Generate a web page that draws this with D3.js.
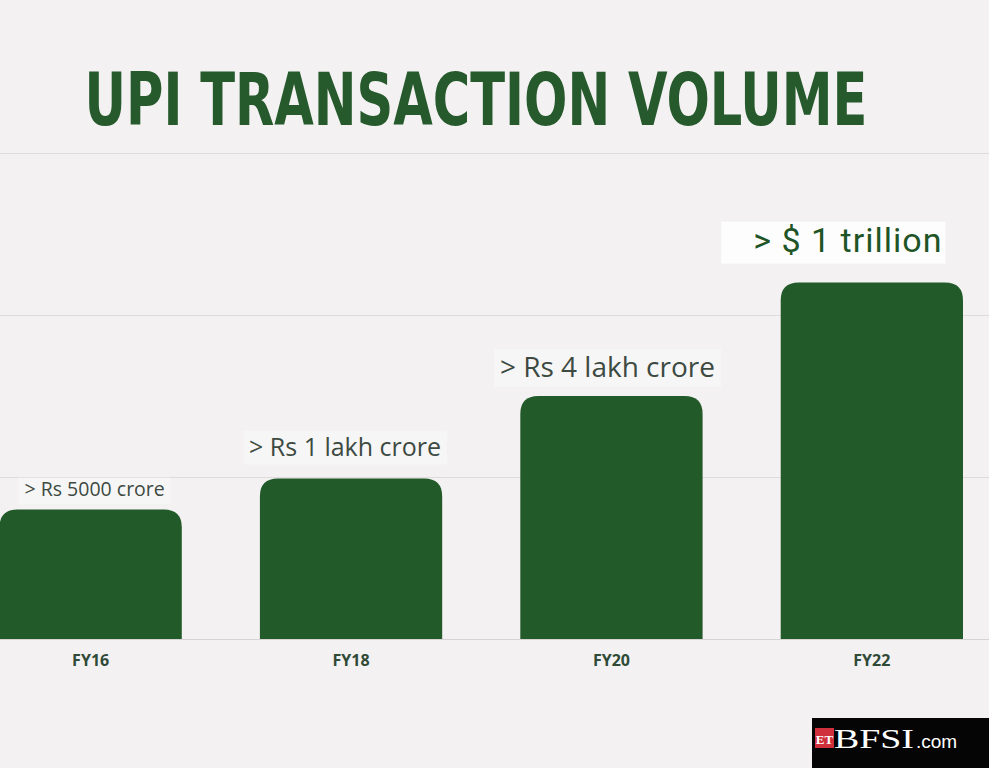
<!DOCTYPE html>
<html><head><meta charset="utf-8">
<script src="https://cdn.jsdelivr.net/npm/d3@7"></script>
<style>html,body{margin:0;padding:0;background:#f3f1f2;overflow:hidden}</style>
</head><body>
<svg id="c" width="989" height="768"></svg>
<script>
const categories = ["FY16","FY18","FY20","FY22"];
const values = [0.8, 0.99, 1.5, 2.2];
const labels = ["> Rs 5000 crore","> Rs 1 lakh crore","> Rs 4 lakh crore","> $ 1 trillion"];
const gridTicks = [0, 1, 2, 3];

const W = 989, H = 768;
const svg = d3.select("#c");
svg.append("rect").attr("width",W).attr("height",H).attr("fill","#f3f1f2");

const x = d3.scaleBand().domain(categories).range([-0.5, 963]).paddingInner(0.3).paddingOuter(0);
const y = d3.scaleLinear().domain([0,3]).range([639,153]);

// gridlines
svg.append("g").selectAll("line").data(gridTicks).join("line")
  .attr("x1",0).attr("x2",W)
  .attr("y1",d=>y(d)+0.5).attr("y2",d=>y(d)+0.5)
  .attr("stroke",d=>d===0?"#d6d3d5":"#dedbdd").attr("stroke-width",1);

// title: fit width by font-size, then stretch vertically to match cap height
const titleG = svg.append("g").attr("transform","translate(476,125)");
const title = titleG.append("text").attr("x",0).attr("y",0)
  .attr("text-anchor","middle")
  .attr("font-family","'DejaVu Sans Condensed','DejaVu Sans',sans-serif")
  .attr("font-weight",700).attr("font-size",72)
  .attr("fill","#265a2c").text("UPI TRANSACTION VOLUME");
const tw = title.node().getComputedTextLength();
let fs = 72;
if (tw > 0) { fs = Math.min(80, 72 * 783 / tw); title.attr("font-size", fs); }
const capH = fs * 0.73;
titleG.attr("transform", `translate(476,125) scale(1,${Math.max(1, 53 / capH)})`);

// bars
const r = 18;
function barPath(x0,w,top,bot){
  const rr = Math.min(r, (bot-top), w/2);
  return `M${x0},${bot}V${top+rr}Q${x0},${top} ${x0+rr},${top}H${x0+w-rr}Q${x0+w},${top} ${x0+w},${top+rr}V${bot}Z`;
}
svg.append("g").selectAll("path").data(categories).join("path")
  .attr("d",(d,i)=>barPath(x(d), x.bandwidth(), y(values[i]), y(0)))
  .attr("fill","#235a29");

// value labels
const lblSizes = [19.5, 25, 28, 34];
const lblFonts = ["'Open Sans'","'Open Sans'","'Open Sans'","Roboto"];
const lblColors = ["#3d4a42","#3d4a42","#3d4a42","#1f5526"];
const lblGap = [13, 23, 19, 31];
const lblDx = [4, -6, -4, -24];
const lg = svg.append("g");
categories.forEach((c,i)=>{
  const g = lg.append("g");
  const t = g.append("text")
    .attr("x", x(c)+x.bandwidth()/2 + lblDx[i])
    .attr("y", y(values[i]) - lblGap[i])
    .attr("text-anchor","middle")
    .attr("font-family", lblFonts[i]+",sans-serif")
    .attr("font-size", lblSizes[i])
    .attr("letter-spacing", i===3?1:0)
    .attr("fill", lblColors[i])
    .text(labels[i]);
  const b = t.node().getBBox();
  g.insert("rect","text").attr("x",b.x-(i===3?32:6)).attr("y",b.y+2).attr("width",b.width+(i===3?35:12)).attr("height",b.height+(i===3?2:0))
    .attr("fill","#ffffff").attr("opacity",i===3?0.85:0.35);
});

// x axis labels
svg.append("g").selectAll("text").data(categories).join("text")
  .attr("x",d=>x(d)+x.bandwidth()/2).attr("y",666)
  .attr("text-anchor","middle")
  .attr("font-family","'Open Sans',sans-serif").attr("font-weight",700).attr("font-size",16)
  .attr("fill","#2f4a36").text(d=>d);

// logo
const logo = svg.append("g");
logo.append("rect").attr("x",812).attr("y",718).attr("width",177).attr("height",50).attr("fill","#050505");
logo.append("rect").attr("x",815).attr("y",728).attr("width",19).attr("height",20).attr("fill","#d0303c");
logo.append("text").attr("x",824.5).attr("y",744).attr("text-anchor","middle")
  .attr("font-family","'Liberation Serif',serif").attr("font-weight",700).attr("font-size",13)
  .attr("fill","#ffffff").text("ET");
logo.append("text").attr("x",834).attr("y",748)
  .attr("font-family","'Liberation Serif',serif").attr("font-size",28)
  .attr("textLength",80).attr("lengthAdjust","spacingAndGlyphs")
  .attr("fill","#ffffff").text("BFSI");
logo.append("text").attr("x",916).attr("y",748)
  .attr("font-family","'Liberation Sans',sans-serif").attr("font-size",19)
  .attr("fill","#ffffff").text(".com");
</script>
</body></html>
